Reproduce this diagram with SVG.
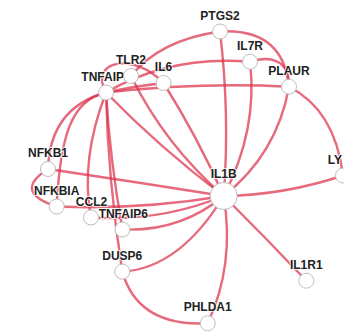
<svg xmlns="http://www.w3.org/2000/svg" width="344" height="335" viewBox="0 0 344 335">
<style>
.e{fill:none;stroke:#dc2f4a;stroke-opacity:0.72;stroke-width:2.4}
.n circle{fill:#fff;stroke:#bdbdbd;stroke-width:1}
.n text{font-family:"Liberation Sans",Arial,sans-serif;font-size:12px;font-weight:bold;fill:#222;text-anchor:middle;paint-order:stroke;stroke:#fff;stroke-width:2px;stroke-opacity:0.8}
</style>
<rect width="344" height="335" fill="#fff"/>
<g id="links">
<path class="e" d="M106,92.5 Q160,148 223.7,196"/>
<path class="e" d="M131,76 Q165,145 223.7,196"/>
<path class="e" d="M163.5,83 Q197,136 223.7,196"/>
<path class="e" d="M220,31.5 Q230,115 223.7,196"/>
<path class="e" d="M250,61.7 Q258,130 223.7,196"/>
<path class="e" d="M289,86.7 Q277,154 223.7,196"/>
<path class="e" d="M223.7,196 Q285,195 343,175.5"/>
<path class="e" d="M223.7,196 Q266,238 306.3,280.7"/>
<path class="e" d="M223.7,196 Q235,265 207.7,323.3"/>
<path class="e" d="M223.7,196 Q180,268 122.3,271.7"/>
<path class="e" d="M122.3,271.7 Q138,327 207.7,323.3"/>
<path class="e" d="M106,92.5 Q108,180 122.3,271.7"/>
<path class="e" d="M106,92.5 Q110,160 122.5,229.5"/>
<path class="e" d="M106,92.5 Q80,160 91,217.5"/>
<path class="e" d="M106,92.5 C70,100 60,140 56.7,206.5"/>
<path class="e" d="M106,92.5 Q50,108 48,169"/>
<path class="e" d="M48,169 Q12,192 56.7,206.5"/>
<path class="e" d="M48,169 Q136,182 223.7,196"/>
<path class="e" d="M56.7,206.5 Q140,210 223.7,196"/>
<path class="e" d="M91,217.5 Q160,222 223.7,196"/>
<path class="e" d="M122.5,229.5 Q180,232 223.7,196"/>
<path class="e" d="M106,92.5 C88,60 135,52 163.5,83"/>
<path class="e" d="M106,92.5 Q135,86 163.5,83"/>
<path class="e" d="M106,92.5 Q200,82 289,86.7"/>
<path class="e" d="M106,92.5 Q170,55 250,61.7"/>
<path class="e" d="M131,76 Q160,40 220,31.5"/>
<path class="e" d="M250,61.7 C268,56 290,58 289,86.7"/>
<path class="e" d="M220,31.5 Q283,28 289,86.7"/>
<path class="e" d="M289,86.7 Q335,110 343,175.5"/>
</g>
<g id="node-TNFAIP3" class="n"><circle cx="106" cy="92.5" r="7.5"/><text x="106" y="80.5">TNFAIP3</text></g>
<g id="node-TLR2" class="n"><circle cx="131" cy="76" r="7.5"/><text x="131" y="64">TLR2</text></g>
<g id="node-IL6" class="n"><circle cx="163.5" cy="83" r="7.5"/><text x="163.5" y="71">IL6</text></g>
<g id="node-PTGS2" class="n"><circle cx="220" cy="31.5" r="7.5"/><text x="220" y="19.5">PTGS2</text></g>
<g id="node-IL7R" class="n"><circle cx="250" cy="61.7" r="7.5"/><text x="250" y="49.7">IL7R</text></g>
<g id="node-PLAUR" class="n"><circle cx="289" cy="86.7" r="7.5"/><text x="289" y="74.7">PLAUR</text></g>
<g id="node-NFKB1" class="n"><circle cx="48" cy="169" r="7.5"/><text x="48" y="157">NFKB1</text></g>
<g id="node-NFKBIA" class="n"><circle cx="56.7" cy="206.5" r="7.5"/><text x="56.7" y="194.5">NFKBIA</text></g>
<g id="node-CCL2" class="n"><circle cx="91" cy="217.5" r="7.5"/><text x="91.5" y="205.5">CCL2</text></g>
<g id="node-TNFAIP6" class="n"><circle cx="122.5" cy="229.5" r="7.5"/><text x="123.3" y="217.5">TNFAIP6</text></g>
<g id="node-IL1B" class="n"><circle cx="223.7" cy="196" r="13.5"/><text x="223.7" y="178">IL1B</text></g>
<g id="node-LY" class="n"><circle cx="343" cy="175.5" r="7.5"/><text x="342" y="163.5" style="text-anchor:end">LY</text></g>
<g id="node-DUSP6" class="n"><circle cx="122.3" cy="271.7" r="7.5"/><text x="122.3" y="259.7">DUSP6</text></g>
<g id="node-PHLDA1" class="n"><circle cx="207.7" cy="323.3" r="7.5"/><text x="207.7" y="311.3">PHLDA1</text></g>
<g id="node-IL1R1" class="n"><circle cx="306.3" cy="280.7" r="7.5"/><text x="306.3" y="268.7">IL1R1</text></g>
</svg>
